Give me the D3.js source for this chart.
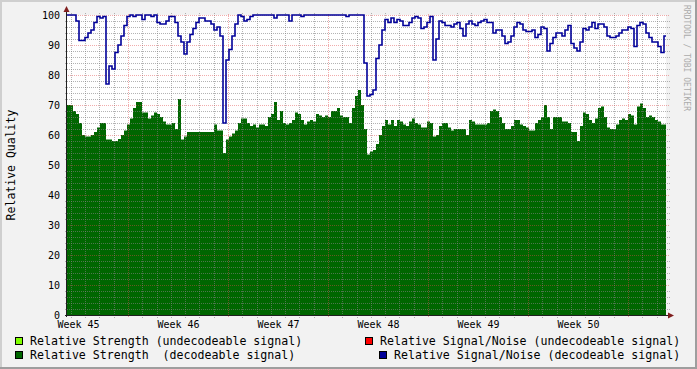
<!DOCTYPE html>
<html><head><meta charset="utf-8">
<script src="https://cdn.jsdelivr.net/npm/d3@7"></script>
<style>
body{margin:0;background:#f2f2f2}
svg{display:block}
text{font-family:"DejaVu Sans Mono",monospace;white-space:pre}
</style>
</head><body>
<svg id="c" width="697" height="369"></svg>
<script>
// ---------- DATA ----------
// Relative strength (decodeable signal), one sample every 0.03 week
const strength = [
70,70,68,67,64,60,59.5,59.5,60,61,
62.5,64,64,58.5,58.5,58,58,58.7,60,61.5,
63.5,65.5,69,71,71,67.5,67.5,65.5,66.5,67.5,
67,66,64.5,63.5,63.5,64,62,72,58.5,59.5,
61,61,61,61,61,61,61,61,61,63.5,
61.5,61.5,54,58.5,59.5,60.5,61.5,64,65.5,65.5,
64,63,63.5,62.5,63.5,63.5,63,66,67,71,
65,68,64,63.5,64,65,67.5,67,65,63.5,
64.5,65,64.5,67,66.5,66,66.5,66,68,68,
69,66.5,66,66,64,69,73,75,70,62,
53.5,54.5,55,57,60,63,65,63.5,65,63,
65,64.5,63.5,63,64.5,65.5,64,63.5,62.5,62.5,
64.5,64,59.5,60,63,64,64,62.5,61.5,62,
62,62,62,60,65,64.5,63.5,63.5,63.5,63.5,
64,68,68.5,68,66,64,62,62,63,65,
65,63.5,63,62.5,61.5,61.5,64,65,66,70,
66,62,66,66,66,64.5,64.5,64,61,61,
58,63,67.5,67,65,64,65.5,69,69.5,66,
62.5,62,62,63.5,65,65.5,65,67,66.5,63.5,
69.5,70.5,69,66,66.5,66,65,64.5,63.5,63.5
];
// Relative signal/noise (decodeable signal)
const snr = [
100,100,100,98,91.5,91.5,92.5,94,95,97.5,
99.5,99,99.5,77,83,82,87.5,90,93,96.5,
99.5,100,99.5,100,100,98.5,100,100,99.5,100,
97.5,97,97,98,99.5,99.5,97.5,93,91,87,
91,93.5,95.5,97.5,99,99,98,98,97,95,
96,93,64,85,88.5,93,97,100,99.5,98,
98.5,99.5,100,100,100,100,100,100,100,99,
100,100,100,100,98,100,100,100,99.5,100,
100,100,100,100,100,100,100,100,100,100,
100,100,100,99.5,100,100,100,100,100,84,
73,73.5,75,85.5,90,95,98.5,97.5,99,97.5,
98.5,98,96.5,96.5,97.5,99,99.5,99,95.5,96,
97.5,99.5,85,92,98,97.5,96.5,96.5,96,97,
97.5,95.5,93,97,98,97,96.5,97.5,98,98.5,
97.5,97.5,94,95,95,93,90.5,91,93,96,
97.5,97,95,94.5,94.5,95,92.5,93.5,96,95.5,
88,90.5,92.5,94,94,93,95,96.5,90.5,89,
88,91,95.5,95,96,97.5,95.5,97,97,96,
93,92.5,92.5,93,94,95,95,96,95.5,89.5,
96.5,97.5,97,94,92.5,91,91,89.5,87.5,93
];
const yTicks = [0,10,20,30,40,50,60,70,80,90,100];
const yMinorTicks = [2,4,6,8,12,14,16,18,22,24,26,28,32,34,36,38,42,44,46,48,52,54,56,58,62,64,66,68,72,74,76,78,82,84,86,88,92,94,96,98];
const xLabelFormat = "Week %V";
const yTitle = "Relative Quality";
const watermark = "RRDTOOL / TOBI OETIKER";
const legendLabels = [
  "Relative Strength (undecodeable signal)",
  "Relative Signal/Noise (undecodeable signal)",
  "Relative Strength  (decodeable signal)",
  "Relative Signal/Noise (decodeable signal)"
];
const legendColors = ["#80ff00","#ff0000","#006600","#000099"];

// ---------- TIME SETUP ----------
const WEEK = 7*864e5;
const week46Start = Date.UTC(2010,10,15);       // Monday, ISO week 46
const t0 = new Date(week46Start - 0.61*WEEK);
const t1 = new Date(t0.getTime() + 5.99*WEEK);
const sampleMs = 0.03*WEEK;
const data = strength.map((v,i)=>({t:new Date(t0.getTime()+i*sampleMs), s:v, n:snr[i]}));
data.push({t:new Date(t0.getTime()+strength.length*sampleMs), s:strength[strength.length-1], n:snr[snr.length-1]});

// ---------- LAYOUT ----------
const W=697,H=369, L=67, R=666, T=15, B=315;
const svg = d3.select("#c");

svg.append("rect").attr("width",W).attr("height",H).attr("fill","#f2f2f2");
svg.append("rect").attr("x",0).attr("y",0).attr("width",W).attr("height",2).attr("fill","#cfcfcf");
svg.append("rect").attr("x",0).attr("y",0).attr("width",2).attr("height",H).attr("fill","#cfcfcf");
svg.append("rect").attr("x",0).attr("y",H-2).attr("width",W).attr("height",2).attr("fill","#9e9e9e");
svg.append("rect").attr("x",W-2).attr("y",0).attr("width",2).attr("height",H).attr("fill","#9e9e9e");

svg.append("rect").attr("x",L).attr("y",T).attr("width",R-L).attr("height",B-T).attr("fill","#ffffff");

const x = d3.scaleUtc().domain([t0,t1]).range([L,R]);
const xr = x.copy().interpolate(d3.interpolateRound);
const y = d3.scaleLinear().domain([0,100]).range([B,T]);

svg.append("clipPath").attr("id","clip").append("rect")
  .attr("x",L).attr("y",0).attr("width",R-L).attr("height",B);

// area
svg.append("path").datum(data)
  .attr("clip-path","url(#clip)")
  .attr("fill","#006600")
  .attr("d", d3.area().x(d=>x(d.t)).y0(y(0)).y1(d=>y(d.s)).curve(d3.curveStepAfter));

// grid: dotted lines built from 1x1 squares
const days = d3.utcDay.range(t0,t1);
const mondays = d3.utcMonday.range(t0,t1);
const minorDays = days.filter(d=>d.getUTCDay()!==1);
const gridG = svg.append("g").attr("shape-rendering","crispEdges");
function vDots(px,start){ let s=""; for(let yy=start; yy<=B+2; yy+=2) s+=`M${px},${yy}h1v1h-1z`; return s; }
function hDots(py,start){ let s=""; for(let xx=start; xx<=R+3; xx+=2) s+=`M${xx},${py}h1v1h-1z`; return s; }
function vGrid(vals,col,start){
  gridG.append("g").selectAll("path").data(vals).join("path")
    .attr("d",d=>vDots(xr(d),start)).attr("fill",col);
}
function hGrid(vals,col,start){
  gridG.append("g").selectAll("path").data(vals).join("path")
    .attr("d",d=>hDots(y(d),start)).attr("fill",col);
}
const minorCol = "rgba(128,128,128,0.6)", majorCol = "rgba(225,70,70,0.45)";
vGrid(minorDays,minorCol,T-2);
hGrid(yMinorTicks,minorCol,L-2);
vGrid(mondays,majorCol,T-1);
hGrid(yTicks.filter(v=>v>0),majorCol,L-1);

// SNR line
svg.append("path").datum(data)
  .attr("clip-path","url(#clip)")
  .attr("fill","none").attr("stroke","#000099").attr("stroke-width",1.6)
  .attr("d", d3.line().x(d=>x(d.t)).y(d=>y(d.n)).curve(d3.curveStepAfter));

// axes lines + arrows
const axisCol = "#1f1f1f", arrowCol = "#801f1f";
svg.append("line").attr("x1",L-0.5).attr("x2",L-0.5).attr("y1",B+2).attr("y2",T-4).attr("stroke",axisCol);
svg.append("line").attr("x1",L-2).attr("x2",R+3).attr("y1",B+0.5).attr("y2",B+0.5).attr("stroke",axisCol);
svg.append("path").attr("d",`M${L-3.5},${T-3}L${L+2.5},${T-3}L${L-0.5},${T-9}Z`).attr("fill",arrowCol);
svg.append("path").attr("d",`M${R+2},${B-2.5}L${R+2},${B+3.5}L${R+8},${B+0.5}Z`).attr("fill",arrowCol);

// y labels
svg.append("g").attr("transform",`translate(${L},0)`)
  .call(d3.axisLeft(y).tickValues(yTicks).tickSize(0).tickPadding(7))
  .call(g=>{g.select(".domain").remove(); g.attr("font-family","DejaVu Sans Mono").attr("font-size",10);
           g.selectAll("text").attr("fill","#000");});

// x labels (mid-week)
const labelTimes = mondays.map(d=>new Date(d.getTime()-0.5*WEEK)).concat([new Date(mondays[mondays.length-1].getTime()+0.5*WEEK)])
  .filter(d=>d>=t0 && d<=t1);
svg.append("g").attr("transform",`translate(0,${B})`)
  .call(d3.axisBottom(x).tickValues(labelTimes).tickSize(0).tickPadding(6).tickFormat(d3.utcFormat(xLabelFormat)))
  .call(g=>{g.select(".domain").remove(); g.attr("font-family","DejaVu Sans Mono").attr("font-size",10);
           g.selectAll("text").attr("fill","#000");});

// y title
svg.append("text").attr("transform",`translate(14.5,${(T+B)/2}) rotate(-90)`)
  .attr("text-anchor","middle").attr("font-size",11.5).attr("fill","#000").text(yTitle);

// watermark
svg.append("text").attr("transform","translate(684,5) rotate(90)")
  .attr("font-size",8).attr("fill","#ababab").text(watermark);

// legend
const legendPos = [[15,337],[365,337],[15,351],[379,351]];
legendLabels.forEach((lab,i)=>{
  const [lx,ly] = legendPos[i];
  svg.append("rect").attr("x",lx+0.5).attr("y",ly+0.5).attr("width",7).attr("height",7)
    .attr("fill",legendColors[i]).attr("stroke","#000");
  svg.append("text").attr("x",lx+15).attr("y",ly+8).attr("font-size",11.6).attr("fill","#000").text(lab);
});
</script>
</body></html>
